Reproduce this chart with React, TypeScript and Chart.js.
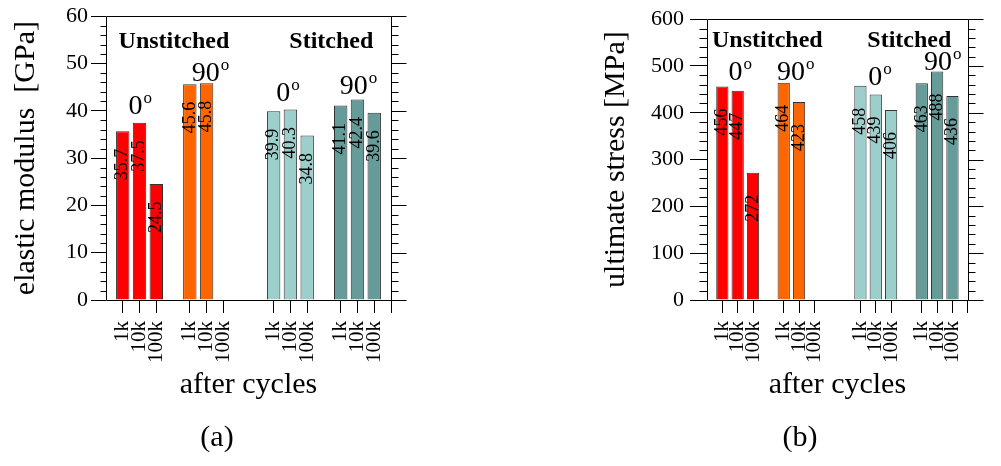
import React, { useEffect, useRef } from 'react';
import { Chart, registerables } from 'chart.js';

Chart.register(...registerables);

const SERIF = '"Liberation Serif", "Times New Roman", Times, serif';

// ---- categories ----
const cycles = ['1k', '10k', '100k'];
const groupNames = ['Unstitched 0°', 'Unstitched 90°', 'Stitched 0°', 'Stitched 90°'];

// ---- (a) elastic modulus [GPa] ----
const modulusUnstitched0 = [35.7, 37.5, 24.5];
const modulusUnstitched90 = [45.6, 45.8, null];
const modulusStitched0 = [39.9, 40.3, 34.8];
const modulusStitched90 = [41.1, 42.4, 39.6];
const modulusTicks = [0, 10, 20, 30, 40, 50, 60];

// ---- (b) ultimate stress [MPa] ----
const stressUnstitched0 = [456, 447, 272];
const stressUnstitched90 = [464, 423, null];
const stressStitched0 = [458, 439, 406];
const stressStitched90 = [463, 488, 436];
const stressTicks = [0, 100, 200, 300, 400, 500, 600];

// ---- styling / layout ----
const groupColors = ['#ff0000', '#ff6600', '#9ccecc', '#659b99'];
const groupStart = [1, 5, 10, 14];
const SLOTS = 18;

const slotLabels: string[] = [];
const slotHasTick: boolean[] = [];
for (let s = 0; s < SLOTS; s++) {
  let lab = '';
  groupStart.forEach((g) => {
    if (s >= g && s < g + cycles.length) lab = cycles[s - g];
  });
  slotLabels.push(lab);
  slotHasTick.push(lab !== '' || s === SLOTS - 1);
}

const modulusNotes = [
  { text: 'Unstitched', slot: 4.05, value: 53.3, bold: true },
  { text: 'Stitched', slot: 13.44, value: 53.3, bold: true },
  { text: '0', sup: 'o', slot: 2.04, value: 39.4 },
  { text: '90', sup: 'o', slot: 6.24, value: 46.3 },
  { text: '0', sup: 'o', slot: 10.86, value: 42.1 },
  { text: '90', sup: 'o', slot: 15.06, value: 43.6 },
];

const stressNotes = [
  { text: 'Unstitched', slot: 3.93, value: 541, bold: true },
  { text: 'Stitched', slot: 13.19, value: 541, bold: true },
  { text: '0', sup: 'o', slot: 2.16, value: 469.5 },
  { text: '90', sup: 'o', slot: 5.79, value: 469.5 },
  { text: '0', sup: 'o', slot: 11.28, value: 459 },
  { text: '90', sup: 'o', slot: 15.36, value: 490.5 },
];

const modulusSpec = {
  left: 0, width: 434, yWidth: 106, padRight: 43,
  yTicks: modulusTicks, yTitle: 'elastic modulus  [GPa]',
  series: [modulusUnstitched0, modulusUnstitched90, modulusStitched0, modulusStitched90],
  decimals: 1, notes: modulusNotes, caption: '(a)', captionX: 217,
  majorLeft: 15, minorLeft: 6, majorRight: 15, minorRight: 7, yLabelPad: 3,
};

const stressSpec = {
  left: 590, width: 411, yWidth: 117, padRight: 9,
  yTicks: stressTicks, yTitle: 'ultimate stress [MPa]',
  series: [stressUnstitched0, stressUnstitched90, stressStitched0, stressStitched90],
  decimals: 0, notes: stressNotes, caption: '(b)', captionX: 210,
  majorLeft: 17, minorLeft: 8, majorRight: 15, minorRight: 7, yLabelPad: 6,
};

function makeDecor(spec: any) {
  return {
    id: 'decor',
    afterDraw(chart: any) {
      const ctx = chart.ctx;
      const { left, right, top, bottom } = chart.chartArea;
      const ys = chart.scales.y;
      const xs = chart.scales.x;
      ctx.save();
      ctx.strokeStyle = '#000';
      ctx.lineWidth = 1;
      const L = Math.round(left) + 0.5;
      const R = Math.round(right) + 0.5;
      const T = Math.round(top) + 0.5;
      const B = Math.round(bottom) + 0.5;
      ctx.beginPath();
      ctx.rect(L, T, R - L, B - T);
      const t = spec.yTicks;
      const major = t[1] - t[0];
      const minor = major / 5;
      const max = t[t.length - 1];
      for (let i = 0; i * minor <= max + 1e-9; i++) {
        const py = Math.round(ys.getPixelForValue(i * minor)) + 0.5;
        const isMajor = i % 5 === 0;
        if (!isMajor) {
          ctx.moveTo(L - spec.minorLeft, py);
          ctx.lineTo(L, py);
        }
        ctx.moveTo(R, py);
        ctx.lineTo(R + (isMajor ? spec.majorRight : spec.minorRight), py);
      }
      ctx.stroke();

      // value labels
      ctx.fillStyle = '#000';
      chart.data.datasets.forEach((ds: any, di: number) => {
        const meta = chart.getDatasetMeta(di);
        meta.data.forEach((el: any, i: number) => {
          const v = ds.data[i];
          if (v == null) return;
          ctx.save();
          ctx.translate(el.x, el.y + 49);
          ctx.rotate(-Math.PI / 2);
          ctx.font = `18px ${SERIF}`;
          ctx.textAlign = 'left';
          ctx.textBaseline = 'middle';
          ctx.fillText(Number(v).toFixed(spec.decimals), 0, 0);
          ctx.restore();
        });
      });

      // annotations
      for (const n of spec.notes) {
        const px = xs.getPixelForValue(n.slot);
        const py = ys.getPixelForValue(n.value);
        ctx.textBaseline = 'alphabetic';
        if (n.bold) {
          ctx.font = `bold 24px ${SERIF}`;
          ctx.textAlign = 'center';
          ctx.fillText(n.text, px, py);
        } else {
          ctx.font = `28px ${SERIF}`;
          const w1 = ctx.measureText(n.text).width;
          ctx.font = `17px ${SERIF}`;
          const w2 = ctx.measureText(n.sup).width;
          const start = px - (w1 + w2 + 1) / 2;
          ctx.textAlign = 'left';
          ctx.font = `28px ${SERIF}`;
          ctx.fillText(n.text, start, py);
          ctx.font = `17px ${SERIF}`;
          ctx.fillText(n.sup, start + w1 + 1, py - 11);
        }
      }

      // caption
      ctx.font = `30px ${SERIF}`;
      ctx.textAlign = 'center';
      ctx.textBaseline = 'middle';
      ctx.fillText(spec.caption, spec.captionX, 438);
      ctx.restore();
    },
  };
}

function buildConfig(spec: any): any {
  const datasets = spec.series.map((vals: (number | null)[], g: number) => {
    const data: (number | null)[] = new Array(SLOTS).fill(null);
    vals.forEach((v, i) => {
      data[groupStart[g] + i] = v;
    });
    return {
      label: groupNames[g],
      data,
      backgroundColor: groupColors[g],
      borderColor: '#333',
      borderWidth: 1,
      borderSkipped: 'start',
      grouped: false,
      categoryPercentage: 1,
      barPercentage: 0.8,
    };
  });
  const yMax = spec.yTicks[spec.yTicks.length - 1];
  return {
    type: 'bar',
    data: { labels: slotLabels, datasets },
    options: {
      responsive: false,
      animation: false,
      devicePixelRatio: 1,
      layout: { padding: { left: 0, right: spec.padRight, top: 15, bottom: 0 } },
      plugins: {
        legend: { display: false },
        tooltip: { enabled: false },
        title: { display: false },
      },
      scales: {
        x: {
          type: 'category',
          offset: false,
          grid: {
            offset: false,
            drawOnChartArea: false,
            drawTicks: true,
            tickLength: 13,
            tickWidth: 1,
            tickColor: (c: any) => (slotHasTick[c.index] ? '#000' : 'rgba(0,0,0,0)'),
          },
          border: { display: false },
          ticks: {
            autoSkip: false,
            minRotation: 90,
            maxRotation: 90,
            padding: 8,
            color: '#000',
            font: { family: SERIF, size: 21 },
          },
          title: {
            display: true,
            text: 'after cycles',
            color: '#000',
            font: { family: SERIF, size: 30 },
            padding: { top: 0, bottom: 63 },
          },
          afterFit: (s: any) => {
            s.height = 166;
          },
        },
        y: {
          type: 'linear',
          min: 0,
          max: yMax,
          afterBuildTicks: (s: any) => {
            s.ticks = spec.yTicks.map((v: number) => ({ value: v }));
          },
          ticks: {
            color: '#000',
            padding: spec.yLabelPad,
            font: { family: SERIF, size: 22 },
          },
          grid: {
            drawOnChartArea: false,
            drawTicks: true,
            tickLength: spec.majorLeft,
            tickColor: '#000',
            tickWidth: 1,
          },
          border: { display: false },
          title: {
            display: true,
            text: spec.yTitle,
            color: '#000',
            font: { family: SERIF, size: 30 },
            padding: 8,
          },
          afterFit: (s: any) => {
            s.width = spec.yWidth;
          },
        },
      },
    },
    plugins: [makeDecor(spec)],
  };
}

function ChartPanel({ spec }: { spec: any }) {
  const ref = useRef<HTMLCanvasElement>(null);
  useEffect(() => {
    const chart = new Chart(ref.current as HTMLCanvasElement, buildConfig(spec));
    return () => chart.destroy();
  }, [spec]);
  return (
    <canvas
      ref={ref}
      width={spec.width}
      height={466}
      style={{ position: 'absolute', left: spec.left, top: 0, width: spec.width, height: 466 }}
    />
  );
}

export default function App() {
  return (
    <div
      style={{
        position: 'absolute',
        left: 0,
        top: 0,
        width: 1001,
        height: 466,
        background: '#fff',
        overflow: 'hidden',
      }}
    >
      <ChartPanel spec={modulusSpec} />
      <ChartPanel spec={stressSpec} />
    </div>
  );
}
